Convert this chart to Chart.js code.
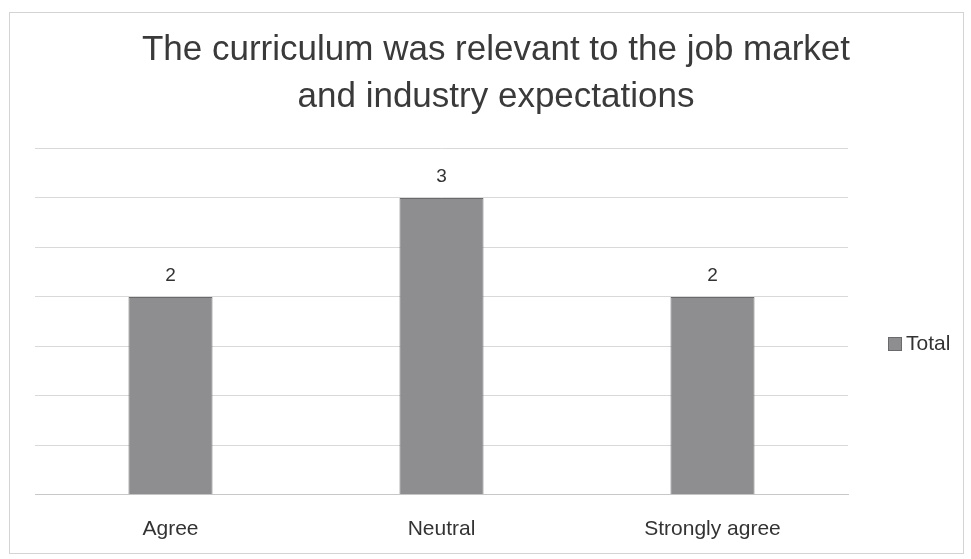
<!DOCTYPE html>
<html><head><meta charset="utf-8">
<script src="https://cdn.jsdelivr.net/npm/chart.js@4"></script>
<style>
html,body{margin:0;padding:0;background:#fff;}
#wrap{position:absolute;left:0;top:0;width:971px;height:559px;}
#frame{position:absolute;left:9px;top:12px;width:955px;height:542px;border:1px solid #d4d4d4;box-sizing:border-box;}
</style></head>
<body>
<div id="wrap"><div id="frame"></div><canvas id="c" width="971" height="559"></canvas></div>
<script>
const categories = ["Agree", "Neutral", "Strongly agree"];
const totals = [2, 3, 2];
const seriesName = "Total";
const titleLines = ["The curriculum was relevant to the job market", "and industry expectations"];
const yMax = 3.5;
const yStep = 0.5;

const FONT = '"Liberation Sans", Arial, sans-serif';

const valueLabels = {
  id: 'valueLabels',
  afterDatasetsDraw(chart) {
    const ctx = chart.ctx;
    const meta = chart.getDatasetMeta(0);
    ctx.save();
    ctx.font = '19px ' + FONT;
    ctx.fillStyle = '#333';
    ctx.textAlign = 'center';
    ctx.textBaseline = 'middle';
    meta.data.forEach((bar, i) => {
      ctx.fillText(String(chart.data.datasets[0].data[i]), bar.x, bar.y - 21);
    });
    ctx.restore();
  }
};

const centeredTitle = {
  id: 'centeredTitle',
  afterDraw(chart) {
    const ctx = chart.ctx;
    const t = chart.titleBlock;
    const lines = chart.options.plugins.title.text;
    const lh = 47;
    ctx.save();
    ctx.font = '35px ' + FONT;
    ctx.fillStyle = '#3a3a3a';
    ctx.textAlign = 'center';
    ctx.textBaseline = 'middle';
    lines.forEach((s, i) => ctx.fillText(s, 496, t.top + 22 + i * lh));
    ctx.restore();
  }
};

const sideLegend = {
  id: 'sideLegend',
  afterDraw(chart) {
    const ctx = chart.ctx;
    const ds = chart.data.datasets[0];
    const y = 344;
    ctx.save();
    ctx.fillStyle = ds.backgroundColor;
    ctx.strokeStyle = ds.borderColor;
    ctx.lineWidth = 1;
    ctx.fillRect(888, y - 7, 14, 14);
    ctx.strokeRect(888.5, y - 6.5, 13, 13);
    ctx.font = '21px ' + FONT;
    ctx.fillStyle = '#333';
    ctx.textAlign = 'left';
    ctx.textBaseline = 'middle';
    ctx.fillText(ds.label, 906, y);
    ctx.restore();
  }
};

new Chart(document.getElementById('c'), {
  type: 'bar',
  data: {
    labels: categories,
    datasets: [{
      label: seriesName,
      data: totals,
      backgroundColor: '#8e8e90',
      borderColor: '#6a6a6c',
      borderWidth: 1,
      categoryPercentage: 0.31,
      barPercentage: 1.0
    }]
  },
  options: {
    responsive: false,
    animation: false,
    devicePixelRatio: 1,
    layout: { padding: { left: 35, right: 123, top: 28, bottom: 3 } },
    plugins: {
      title: {
        display: true,
        text: titleLines,
        color: 'rgba(0,0,0,0)',
        font: { family: FONT, size: 35, weight: 'normal', lineHeight: 1.35 },
        padding: { top: 0, bottom: 26 }
      },
      legend: { display: false },
      tooltip: { enabled: false }
    },
    scales: {
      x: {
        grid: { display: false },
        border: { color: '#c8c8c8' },
        ticks: { color: '#333', font: { family: FONT, size: 21 }, padding: 14 }
      },
      y: {
        min: 0, max: yMax,
        ticks: { display: false, stepSize: yStep },
        grid: { color: '#d9d9d9', drawTicks: false },
        border: { display: false }
      }
    }
  },
  plugins: [valueLabels, centeredTitle, sideLegend]
});
</script>
</body></html>
